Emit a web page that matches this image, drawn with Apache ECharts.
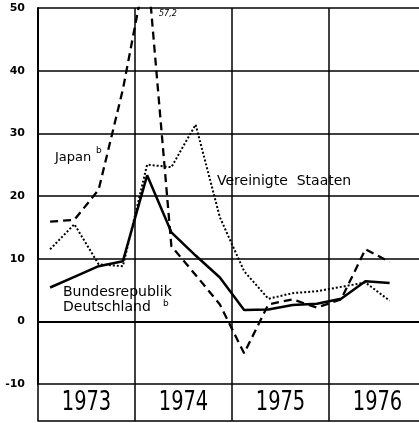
<!DOCTYPE html>
<html><head><meta charset="utf-8">
<script src="https://cdn.jsdelivr.net/npm/echarts@6/dist/echarts.min.js"></script>
<style>html,body{margin:0;padding:0;background:#fff;overflow:hidden;width:419px;height:423px}#c{width:426px;height:423px}</style>
</head><body><div id="c"></div>
<script>
const quarters = ['1973 I','1973 II','1973 III','1973 IV','1974 I','1974 II','1974 III','1974 IV',
  '1975 I','1975 II','1975 III','1975 IV','1976 I','1976 II','1976 III','1976 IV'];
const years = ['1973','1974','1975','1976'];
const japan = [15.9, 16.2, 21, 37, 57.2, 12, 7.4, 2.7, -5.1, 2.7, 3.5, 2.2, 3.5, 11.5, 9.5, null];
const germany = [5.4, 7.1, 8.8, 9.6, 23.3, 14.2, 10.5, 7.0, 1.8, 1.9, 2.6, 2.8, 3.6, 6.4, 6.1, null];
const usa = [11.5, 15.5, 9.1, 8.8, 25, 24.6, 31.4, 16.6, 8, 3.6, 4.5, 4.8, 5.5, 6.2, 3.3, null];
const yMin = -10, yMax = 50, yStep = 10;
const peakLabel = '57,2';

const chart = echarts.init(document.getElementById('c'), null, {renderer:'canvas'});
const yearBoundary = (i) => i % 4 === 0;
const F = 'DejaVu Sans';
const labelFont = '14px "DejaVu Sans"';
chart.setOption({
  animation: false,
  backgroundColor: '#fff',
  grid: {left: 38, top: 8, right: 0, height: 376},
  xAxis: [{
    type: 'category', data: quarters, boundaryGap: true, position: 'bottom',
    axisLine: {show: true, lineStyle: {color: '#000', width: 2}},
    axisTick: {show: false},
    axisLabel: {show: false},
    splitLine: {show: true, interval: yearBoundary, lineStyle: {color: '#000', width: 1.5}}
  }, {
    type: 'category', data: years, boundaryGap: true, position: 'bottom', offset: 37,
    axisLine: {show: true, lineStyle: {color: '#000', width: 1.5}},
    axisTick: {show: true, inside: true, length: 37, lineStyle: {color: '#000', width: 1.5}},
    axisLabel: {show: false},
    splitLine: {show: false}
  }],
  yAxis: {
    type: 'value', min: yMin, max: yMax, interval: yStep,
    axisLine: {show: true, lineStyle: {color: '#000', width: 2}},
    axisTick: {show: false},
    axisLabel: {color: '#000', fontSize: 11, fontWeight: 'bold', fontFamily: F, margin: 13},
    splitLine: {show: true, lineStyle: {color: '#000', width: 1.5}}
  },
  series: [
    {name: 'Bundesrepublik Deutschland', type: 'line', data: germany, showSymbol: false, symbol: 'none',
      lineStyle: {color: '#000', width: 2.5, type: 'solid'}, z: 5,
      markLine: {silent: true, symbol: 'none', label: {show: false},
        lineStyle: {color: '#000', width: 2.2, type: 'solid'}, data: [{yAxis: 0}]}},
    {name: 'Japan', type: 'line', data: japan, showSymbol: false, symbol: 'none',
      lineStyle: {color: '#000', width: 2.3, type: [8, 5]}, z: 4},
    {name: 'Vereinigte Staaten', type: 'line', data: usa, showSymbol: false, symbol: 'none',
      lineStyle: {color: '#000', width: 2, type: [2, 2]}, z: 3}
  ]
});

const graphics = [
  {type: 'text', left: 55, top: 151, style: {text: 'Japan', font: '13px "DejaVu Sans"', fill: '#000'}},
  {type: 'text', left: 96, top: 146, style: {text: 'b', font: '9px "DejaVu Sans"', fill: '#000'}},
  {type: 'text', left: 217, top: 174, style: {text: 'Vereinigte  Staaten', font: labelFont, fill: '#000'}},
  {type: 'text', left: 63, top: 285, style: {text: 'Bundesrepublik', font: labelFont, fill: '#000'}},
  {type: 'text', left: 63, top: 300, style: {text: 'Deutschland', font: labelFont, fill: '#000'}},
  {type: 'text', left: 163, top: 299, style: {text: 'b', font: '9px "DejaVu Sans"', fill: '#000'}},
  {type: 'text', left: 159, top: 10, style: {text: peakLabel, font: 'italic 8px "DejaVu Sans"', fill: '#000'}}
];
const yBase = chart.convertToPixel({yAxisIndex: 0}, yMin);
years.forEach((yr) => {
  const px = chart.convertToPixel({xAxisIndex: 1}, yr);
  graphics.push({type: 'text', x: px, y: yBase + 19, scaleX: 0.8,
    style: {text: yr, font: '27px "DejaVu Sans Condensed"', fill: '#000', align: 'center', verticalAlign: 'middle'}});
});
chart.setOption({graphic: graphics});
</script></body></html>
